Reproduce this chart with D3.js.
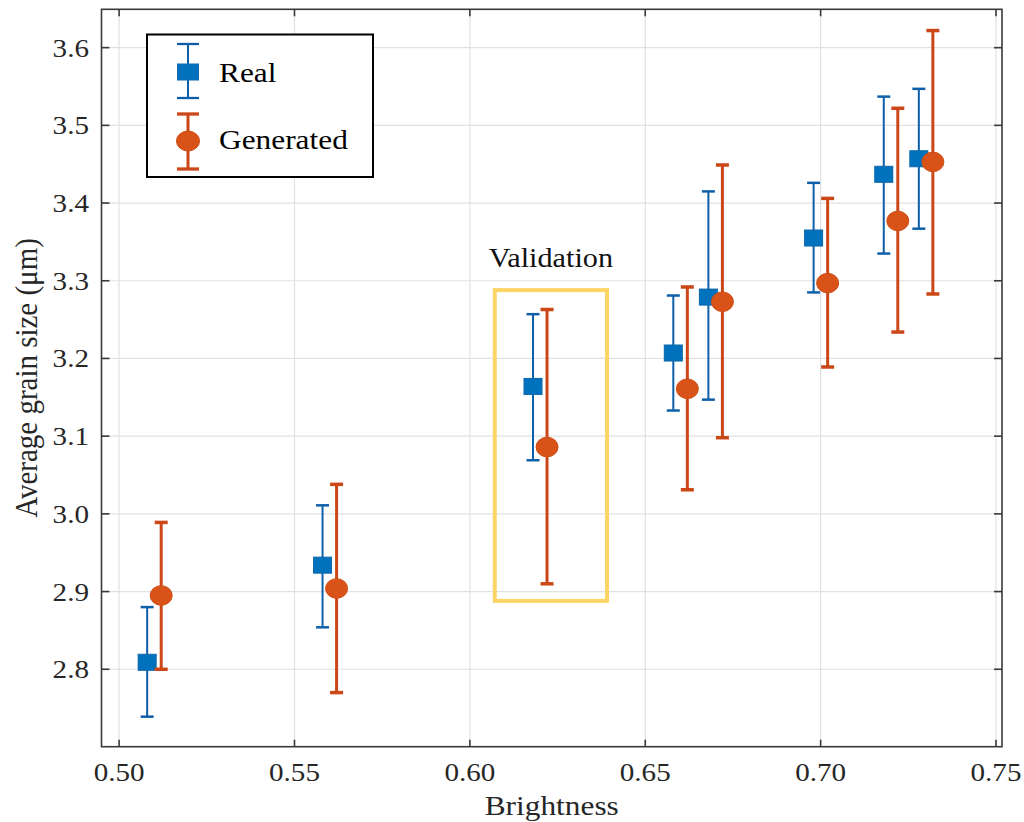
<!DOCTYPE html>
<html>
<head>
<meta charset="utf-8">
<script src="https://cdn.jsdelivr.net/npm/d3@7"></script>
<style>
  html, body { margin: 0; padding: 0; background: #fff; }
  svg { display: block; }
  text { font-family: "Liberation Serif", "Times New Roman", serif; }
</style>
</head>
<body>
<svg id="chart" width="1024" height="822"></svg>
<script>
// ---- data ----
const realX  = [0.508, 0.558, 0.618, 0.658, 0.668, 0.698, 0.718, 0.728];
const realY  = [2.809, 2.934, 3.164, 3.207, 3.279, 3.355, 3.437, 3.457];
const realLo = [2.739, 2.854, 3.069, 3.133, 3.147, 3.285, 3.335, 3.367];
const realHi = [2.880, 3.011, 3.257, 3.281, 3.415, 3.426, 3.537, 3.547];

const genX  = [0.512, 0.562, 0.622, 0.662, 0.672, 0.702, 0.722, 0.732];
const genY  = [2.895, 2.904, 3.086, 3.161, 3.273, 3.297, 3.377, 3.453];
const genLo = [2.800, 2.770, 2.910, 3.031, 3.098, 3.189, 3.234, 3.283];
const genHi = [2.989, 3.038, 3.263, 3.292, 3.449, 3.406, 3.522, 3.622];

const xTicks = [0.50, 0.55, 0.60, 0.65, 0.70, 0.75];
const yTicks = [2.8, 2.9, 3.0, 3.1, 3.2, 3.3, 3.4, 3.5, 3.6];

const validationX = [0.6071, 0.6391];
const validationY = [2.888, 3.288];

const seriesNames = ["Real", "Generated"];

// ---- layout ----
const svg = d3.select("#chart");
const L = 101.5, R = 1002, T = 9.3, B = 746.7;
const SX = 1.12; // horizontal text stretch

const x = d3.scaleLinear().domain([0.49498, 0.75171]).range([L, R]);
const y = d3.scaleLinear().domain([2.70035, 3.64936]).range([B, T]);

const colors = {
  realFill: "#0072BD", realLine: "#0e5fa9",
  genFill: "#D95319", genLine: "#cc4717"
};

svg.append("rect").attr("width", 1024).attr("height", 822).attr("fill", "#fff");

// grid
const grid = svg.append("g");
grid.selectAll(".gx").data(xTicks).enter().append("line")
  .attr("x1", d => x(d)).attr("x2", d => x(d)).attr("y1", T).attr("y2", B)
  .attr("stroke", "#e1e1e1").attr("stroke-width", 1.2);
grid.selectAll(".gy").data(yTicks).enter().append("line")
  .attr("y1", d => y(d)).attr("y2", d => y(d)).attr("x1", L).attr("x2", R)
  .attr("stroke", "#e1e1e1").attr("stroke-width", 1.2);

// validation box
svg.append("rect")
  .attr("x", x(validationX[0])).attr("y", y(validationY[1]))
  .attr("width", x(validationX[1]) - x(validationX[0]))
  .attr("height", y(validationY[0]) - y(validationY[1]))
  .attr("fill", "none").attr("stroke", "#FDD466").attr("stroke-width", 4);

function stretchedText(g, tx, ty, str, size, anchor, extra) {
  return g.append("text")
    .attr("transform", `translate(${tx},${ty}) scale(${SX},1)` + (extra || ""))
    .attr("text-anchor", anchor)
    .attr("font-size", size)
    .text(str);
}

stretchedText(svg, (x(validationX[0]) + x(validationX[1])) / 2, 267, "Validation", 27, "middle")
  .attr("fill", "#111");

// error bars
function drawSeries(xs, ys, lo, hi, lineColor, fillColor, lw, kind) {
  const g = svg.append("g");
  const idx = d3.range(xs.length);
  g.selectAll(".v").data(idx).enter().append("line")
    .attr("x1", i => x(xs[i])).attr("x2", i => x(xs[i]))
    .attr("y1", i => y(lo[i])).attr("y2", i => y(hi[i]))
    .attr("stroke", lineColor).attr("stroke-width", lw);
  [lo, hi].forEach(arr => {
    g.selectAll(null).data(idx).enter().append("line")
      .attr("x1", i => x(xs[i]) - 6.5).attr("x2", i => x(xs[i]) + 6.5)
      .attr("y1", i => y(arr[i])).attr("y2", i => y(arr[i]))
      .attr("stroke", lineColor).attr("stroke-width", lw + 0.5);
  });
  if (kind === "square") {
    g.selectAll(".m").data(idx).enter().append("rect")
      .attr("x", i => x(xs[i]) - 9).attr("y", i => y(ys[i]) - 8)
      .attr("width", 18).attr("height", 16)
      .attr("fill", fillColor).attr("stroke", "#0a66ad").attr("stroke-width", 1);
  } else {
    g.selectAll(".m").data(idx).enter().append("ellipse")
      .attr("cx", i => x(xs[i])).attr("cy", i => y(ys[i]))
      .attr("rx", 11).attr("ry", 9.8)
      .attr("fill", fillColor).attr("stroke", "#cf4d16").attr("stroke-width", 1);
  }
}
drawSeries(realX, realY, realLo, realHi, colors.realLine, colors.realFill, 2, "square");
drawSeries(genX, genY, genLo, genHi, colors.genLine, colors.genFill, 3, "circle");

// frame
svg.append("rect").attr("x", L).attr("y", T).attr("width", R - L).attr("height", B - T)
  .attr("fill", "none").attr("stroke", "#3a3a3a").attr("stroke-width", 1.6);

// ticks (inward, all four sides)
const ticks = svg.append("g").attr("stroke", "#3a3a3a").attr("stroke-width", 1.6);
xTicks.forEach(v => {
  ticks.append("line").attr("x1", x(v)).attr("x2", x(v)).attr("y1", B).attr("y2", B - 7);
  ticks.append("line").attr("x1", x(v)).attr("x2", x(v)).attr("y1", T).attr("y2", T + 7);
});
yTicks.forEach(v => {
  ticks.append("line").attr("y1", y(v)).attr("y2", y(v)).attr("x1", L).attr("x2", L + 8);
  ticks.append("line").attr("y1", y(v)).attr("y2", y(v)).attr("x1", R).attr("x2", R - 8);
});

// tick labels
const lbl = svg.append("g").attr("fill", "#262626");
xTicks.forEach(v => {
  stretchedText(lbl, x(v), 781, d3.format(".2f")(v), 26, "middle");
});
yTicks.forEach(v => {
  stretchedText(lbl, 89, y(v) + 9, d3.format(".1f")(v), 26, "end");
});

// axis labels
stretchedText(svg, (L + R) / 2, 815, "Brightness", 28, "middle").attr("fill", "#262626");
svg.append("text")
  .attr("transform", `translate(37,${(T + B) / 2}) scale(${SX},1) rotate(-90)`)
  .attr("text-anchor", "middle").attr("font-size", 29).attr("fill", "#262626")
  .text("Average grain size (\u03bcm)");

// legend
const lg = svg.append("g");
lg.append("rect").attr("x", 147).attr("y", 34.5).attr("width", 226).attr("height", 142.5)
  .attr("fill", "#fff").attr("stroke", "#000").attr("stroke-width", 2);
const legendItems = [
  { name: seriesNames[0], cy: 72, lo: 98, hi: 44, line: colors.realLine, fill: colors.realFill, kind: "square", base: 82 },
  { name: seriesNames[1], cy: 141, lo: 169, hi: 114, line: colors.genLine, fill: colors.genFill, kind: "circle", base: 149 }
];
legendItems.forEach(it => {
  const mx = 188;
  const lw = it.kind === "square" ? 2 : 3;
  lg.append("line").attr("x1", mx).attr("x2", mx).attr("y1", it.hi).attr("y2", it.lo)
    .attr("stroke", it.line).attr("stroke-width", lw);
  [it.hi, it.lo].forEach(yy => lg.append("line").attr("x1", mx - 11).attr("x2", mx + 11)
    .attr("y1", yy).attr("y2", yy).attr("stroke", it.line).attr("stroke-width", lw + 0.3));
  if (it.kind === "square") {
    lg.append("rect").attr("x", mx - 10.5).attr("y", it.cy - 8).attr("width", 21).attr("height", 16)
      .attr("fill", it.fill).attr("stroke", "#0a66ad").attr("stroke-width", 1);
  } else {
    lg.append("ellipse").attr("cx", mx).attr("cy", it.cy).attr("rx", 11.5).attr("ry", 10)
      .attr("fill", it.fill).attr("stroke", "#cf4d16").attr("stroke-width", 1);
  }
  stretchedText(lg, 219, it.base, it.name, 28, "start").attr("fill", "#000");
});
</script>
</body>
</html>
